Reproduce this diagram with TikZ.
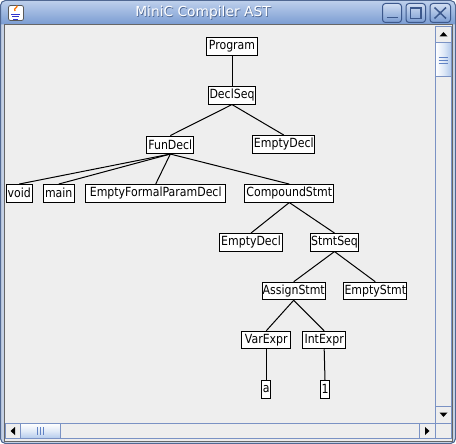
\documentclass[tikz,border=0pt]{standalone}
\usepackage{fontspec}
\setmainfont{DejaVu Sans}
\newfontfamily\nodefont[FakeStretch=0.87]{DejaVu Sans}
\definecolor{tbtop}{RGB}{190,208,236}
\definecolor{tbbot}{RGB}{122,156,210}
\definecolor{frameside}{RGB}{196,208,228}
\definecolor{frameedge}{RGB}{80,104,146}
\definecolor{panelbg}{RGB}{238,238,238}
\definecolor{sbborder}{RGB}{122,146,196}
\definecolor{thumbblue}{RGB}{178,202,236}
\definecolor{gripblue}{RGB}{96,130,196}
\definecolor{btnedge}{RGB}{60,88,140}
\begin{document}
\begin{tikzpicture}[x=1pt,y=-1pt,
  tn/.style={draw=black, fill=white, line width=1pt, inner sep=0pt,
    minimum height=17.5pt, font=\nodefont\fontsize{12.6}{14}\selectfont},
  edge/.style={line width=1pt, black},
  sbbtn/.style={fill=panelbg, draw=sbborder, line width=0.8pt},
  winbtn/.style={draw=btnedge, line width=1pt, rounded corners=3pt, top color=tbtop!70!white, bottom color=tbbot},
  winsym/.style={draw=btnedge, line width=1.4pt}]
\useasboundingbox (0,0) rectangle (456,444);
% window frame
\fill[frameside, draw=frameedge, rounded corners=5pt] (0.5,443.5) -- (0.5,0.5) -- (455.5,0.5) -- (455.5,443.5) -- cycle;
\shade[top color=tbtop, bottom color=tbbot] (0.5,24.5) [rounded corners=5pt]-- (0.5,0.5) -- (455.5,0.5) [sharp corners]-- (455.5,24.5) -- cycle;
\draw[frameedge, line width=1pt, rounded corners=5pt] (0.5,443.5) -- (0.5,0.5) -- (455.5,0.5) -- (455.5,443.5) -- cycle;
% content panel
\fill[panelbg, draw=gray!80!black, line width=1pt] (4,25) rectangle (452,441);
% title
\node[text=frameedge, font=\fontsize{13.8}{15}\selectfont] at (203.8,13.8) {MiniC Compiler AST};
\node[text=white, font=\fontsize{13.8}{15}\selectfont] (title) at (203,13) {MiniC Compiler AST};
% java icon
\node[draw=gray!70!black, fill=white, rounded corners=2pt, minimum width=15pt, minimum height=15pt, inner sep=0pt, line width=0.8pt] (icon) at (16,13) {};
\draw[orange!90!red, line width=1.3pt] (15,11) .. controls (13,8) and (18,8) .. (17,5.5);
\draw[blue!60!gray, line width=1pt] (11,14.5) -- (20,14.5) (12,17) -- (19,17) (13,19.3) -- (18,19.3);
% window buttons
\path[winbtn] (382.5,3.5) rectangle (401.5,22.5);
\draw[winsym] (386.5,17.5) -- (397.5,17.5);
\path[winbtn] (406,3.5) rectangle (425.5,22.5);
\draw[winsym, line width=1.1pt] (410.5,7.5) rectangle (421,18.5);
\draw[btnedge, line width=1.6pt] (410.5,8.2) -- (421,8.2);
\path[winbtn] (430,3.5) rectangle (450.5,22.5);
\draw[winsym, line width=1.5pt] (434.5,7.5) -- (446,18.5) (446,7.5) -- (434.5,18.5);
% vertical scrollbar
\fill[panelbg, draw=sbborder, line width=0.8pt] (435.5,26) rectangle (451,423);
\path[sbbtn] (435.5,26) rectangle (451,42.5);
\fill[black] (439.5,36.5) -- (447.5,36.5) -- (443.5,32) -- cycle;
\shade[left color=white, right color=thumbblue, middle color=thumbblue!40!white] (435.5,43) rectangle (451,77);
\draw[sbborder, line width=1pt] (435.5,43) rectangle (451,77);
\draw[gripblue, line width=0.8pt] (438.5,57.5) -- (447.5,57.5) (438.5,60.5) -- (447.5,60.5) (438.5,63.5) -- (447.5,63.5);
\path[sbbtn] (435.5,406.5) rectangle (451,423);
\fill[black] (439.5,412.5) -- (447.5,412.5) -- (443.5,417) -- cycle;
% horizontal scrollbar
\fill[panelbg, draw=sbborder, line width=0.8pt] (5,423.5) rectangle (435.5,438.5);
\path[sbbtn] (5,423.5) rectangle (20.5,438.5);
\fill[black] (15,427) -- (15,435) -- (10.5,431) -- cycle;
\shade[top color=white, bottom color=thumbblue, middle color=thumbblue!40!white] (20.5,423.5) rectangle (60.5,438.5);
\draw[sbborder, line width=1pt] (20.5,423.5) rectangle (60.5,438.5);
\draw[gripblue, line width=0.8pt] (37.5,427) -- (37.5,435) (40.5,427) -- (40.5,435) (43.5,427) -- (43.5,435);
\path[sbbtn] (419,423.5) rectangle (435.5,438.5);
\fill[black] (425,427) -- (425,435) -- (429.5,431) -- cycle;
\fill[panelbg, draw=sbborder, line width=0.8pt] (435.5,423) rectangle (451,438.5);
% tree nodes
\node[tn, minimum width=51.4pt] (prog) at (232,46.3) {Program};
\node[tn, minimum width=47.7pt] (dseq) at (232,95.3) {DeclSeq};
\node[tn, minimum width=47pt] (fun) at (170.3,144.8) {FunDecl};
\node[tn, minimum width=62pt] (ed1) at (283.8,144.3) {EmptyDecl};
\node[tn, minimum width=26pt] (void) at (19.2,193.3) {void};
\node[tn, minimum width=31pt] (main) at (58.7,193.3) {main};
\node[tn, minimum width=139.7pt] (efpd) at (155.7,193.3) {EmptyFormalParamDecl};
\node[tn, minimum width=89pt] (cs) at (289.3,193.3) {CompoundStmt};
\node[tn, minimum width=63pt] (ed2) at (251,242.3) {EmptyDecl};
\node[tn, minimum width=47.4pt] (sseq) at (334.5,242.3) {StmtSeq};
\node[tn, minimum width=63pt] (as) at (293.7,291) {AssignStmt};
\node[tn, minimum width=63pt] (es) at (375.3,291) {EmptyStmt};
\node[tn, minimum width=49pt] (ve) at (266.3,340) {VarExpr};
\node[tn, minimum width=42.7pt] (ie) at (324.2,340) {IntExpr};
\node[tn, minimum width=9pt] (a) at (266.3,389.3) {a};
\node[tn, minimum width=9.6pt] (one) at (325,389.3) {1};
% edges
\draw[edge] (prog.south) -- (dseq.north);
\draw[edge] (dseq.south) -- (fun.north);
\draw[edge] (dseq.south) -- (ed1.north);
\draw[edge] (fun.south) -- (void.north);
\draw[edge] (fun.south) -- (main.north);
\draw[edge] (fun.south) -- (efpd.north);
\draw[edge] (fun.south) -- (cs.north);
\draw[edge] (cs.south) -- (ed2.north);
\draw[edge] (cs.south) -- (sseq.north);
\draw[edge] (sseq.south) -- (as.north);
\draw[edge] (sseq.south) -- (es.north);
\draw[edge] (as.south) -- (ve.north);
\draw[edge] (as.south) -- (ie.north);
\draw[edge] (ve.south) -- (a.north);
\draw[edge] (ie.south) -- (one.north);
\end{tikzpicture}
\end{document}
